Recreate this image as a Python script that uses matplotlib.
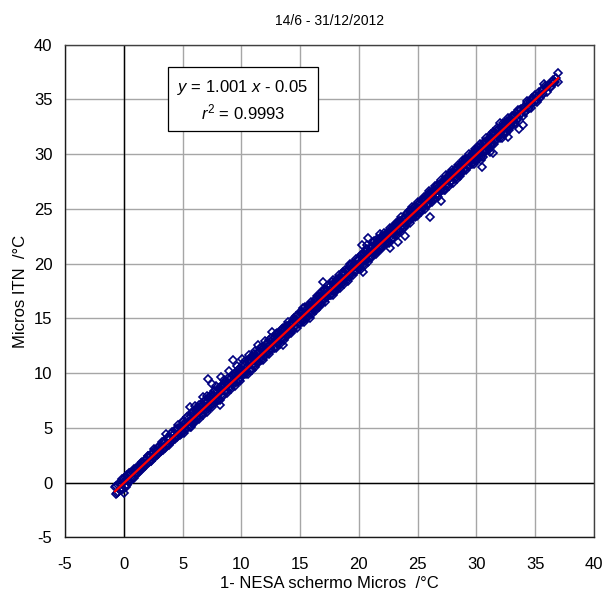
import matplotlib
matplotlib.use("Agg")
import matplotlib.pyplot as plt
import numpy as np

plt.rcParams["font.family"] = ["Liberation Sans", "DejaVu Sans"]
plt.rcParams["axes.unicode_minus"] = False
plt.rcParams["mathtext.fontset"] = "custom"
plt.rcParams["mathtext.rm"] = "Liberation Sans"
plt.rcParams["mathtext.it"] = "Liberation Sans:italic"

# Paired hourly readings (°C): NESA sensor in the Micros screen vs Micros ITN
x_nesa = [
    # around 0 °C
    -0.75, -0.70, -0.64, -0.58, -0.52, -0.46, -0.40, -0.33, -0.25, -0.18,
    -0.11, -0.05, 0.01, 0.06, 0.12, 0.18, 0.24, 0.30, 0.36, 0.42,
    0.48, 0.55, 0.62, 0.70, 0.78, 0.86, 0.94,
    # 1 .. 5 °C
    1.02, 1.10, 1.19, 1.27, 1.36, 1.44, 1.53, 1.61, 1.70, 1.78,
    1.87, 1.95, 2.04, 2.12, 2.21, 2.29, 2.38, 2.46, 2.55, 2.63,
    2.72, 2.80, 2.89, 2.97, 3.06, 3.14, 3.23, 3.31, 3.40, 3.48,
    3.57, 3.65, 3.74, 3.82, 3.91, 3.99, 4.08, 4.16, 4.25, 4.33,
    4.42, 4.50, 4.59, 4.67, 4.76, 4.84, 4.93,
    # 5 .. 12.5 °C
    5.01, 5.08, 5.16, 5.23, 5.31, 5.38, 5.46, 5.53, 5.61, 5.68,
    5.76, 5.83, 5.91, 5.98, 6.06, 6.13, 6.21, 6.28, 6.36, 6.43,
    6.51, 6.58, 6.66, 6.73, 6.81, 6.88, 6.96, 7.03, 7.11, 7.18,
    7.26, 7.33, 7.41, 7.48, 7.56, 7.63, 7.71, 7.78, 7.86, 7.93,
    8.01, 8.08, 8.16, 8.23, 8.31, 8.38, 8.46, 8.53, 8.61, 8.68,
    8.76, 8.83, 8.91, 8.98, 9.06, 9.13, 9.21, 9.28, 9.36, 9.43,
    9.51, 9.58, 9.66, 9.73, 9.81, 9.88, 9.96, 10.03, 10.11, 10.18,
    10.26, 10.33, 10.41, 10.48, 10.56, 10.63, 10.71, 10.78, 10.86, 10.93,
    11.01, 11.08, 11.16, 11.23, 11.31, 11.38, 11.46, 11.53, 11.61, 11.68,
    11.76, 11.83, 11.91, 11.98, 12.06, 12.13, 12.21, 12.28, 12.36, 12.43,
    # 12.5 .. 20 °C
    12.51, 12.59, 12.67, 12.75, 12.83, 12.91, 12.99, 13.07, 13.15, 13.23,
    13.31, 13.39, 13.47, 13.55, 13.63, 13.71, 13.79, 13.87, 13.95, 14.03,
    14.11, 14.19, 14.27, 14.35, 14.43, 14.51, 14.59, 14.67, 14.75, 14.83,
    14.91, 14.99, 15.07, 15.15, 15.23, 15.31, 15.39, 15.47, 15.55, 15.63,
    15.71, 15.79, 15.87, 15.95, 16.03, 16.11, 16.19, 16.27, 16.35, 16.43,
    16.51, 16.59, 16.67, 16.75, 16.83, 16.91, 16.99, 17.07, 17.15, 17.23,
    17.31, 17.39, 17.47, 17.55, 17.63, 17.71, 17.79, 17.87, 17.95, 18.03,
    18.11, 18.19, 18.27, 18.35, 18.43, 18.51, 18.59, 18.67, 18.75, 18.83,
    18.91, 18.99, 19.07, 19.15, 19.23, 19.31, 19.39, 19.47, 19.55, 19.63,
    19.71, 19.79, 19.87, 19.95,
    # 20 .. 28 °C
    20.03, 20.10, 20.17, 20.24, 20.31, 20.38, 20.45, 20.52, 20.59, 20.66,
    20.73, 20.80, 20.87, 20.94, 21.01, 21.08, 21.15, 21.22, 21.29, 21.36,
    21.43, 21.50, 21.57, 21.64, 21.71, 21.78, 21.85, 21.92, 21.99, 22.06,
    22.13, 22.20, 22.27, 22.34, 22.41, 22.48, 22.55, 22.62, 22.69, 22.76,
    22.83, 22.90, 22.97, 23.04, 23.11, 23.18, 23.25, 23.32, 23.39, 23.46,
    23.53, 23.60, 23.67, 23.74, 23.81, 23.88, 23.95, 24.02, 24.09, 24.16,
    24.23, 24.30, 24.37, 24.44, 24.51, 24.58, 24.65, 24.72, 24.79, 24.86,
    24.93, 25.00, 25.07, 25.14, 25.21, 25.28, 25.35, 25.42, 25.49, 25.56,
    25.63, 25.70, 25.77, 25.84, 25.91, 25.98, 26.05, 26.12, 26.19, 26.26,
    26.33, 26.40, 26.47, 26.54, 26.61, 26.68, 26.75, 26.82, 26.89, 26.96,
    27.03, 27.10, 27.17, 27.24, 27.31, 27.38, 27.45, 27.52, 27.59, 27.66,
    27.73, 27.80, 27.87, 27.94,
    # 28 .. 33.5 °C
    28.01, 28.08, 28.15, 28.22, 28.29, 28.36, 28.43, 28.50, 28.57, 28.64,
    28.71, 28.78, 28.85, 28.92, 28.99, 29.06, 29.13, 29.20, 29.27, 29.34,
    29.41, 29.48, 29.55, 29.62, 29.69, 29.76, 29.83, 29.90, 29.97, 30.04,
    30.11, 30.18, 30.25, 30.32, 30.39, 30.46, 30.53, 30.60, 30.67, 30.74,
    30.81, 30.88, 30.95, 31.02, 31.09, 31.16, 31.23, 31.30, 31.37, 31.44,
    31.51, 31.58, 31.65, 31.72, 31.79, 31.86, 31.93, 32.00, 32.07, 32.14,
    32.21, 32.28, 32.35, 32.42, 32.49, 32.56, 32.63, 32.70, 32.77, 32.84,
    32.91, 32.98, 33.05, 33.12, 33.19, 33.26, 33.33, 33.40,
    # above 33.5 °C
    33.50, 33.62, 33.71, 33.83, 33.95, 34.04, 34.16, 34.27, 34.39, 34.50,
    34.62, 34.74, 34.85, 34.98, 35.10, 35.21, 35.35, 35.48, 35.62, 35.76,
    35.90, 36.05, 36.22, 36.40, 36.58, 36.78, 36.91, 36.95,
    # second pass of readings, 0 .. 36.7 °C
    0.05, 0.15, 0.25, 0.35, 0.45, 0.55, 0.65, 0.75, 0.85, 0.95,
    1.05, 1.15, 1.25, 1.35, 1.45, 1.55, 1.65, 1.75, 1.85, 1.95,
    2.05, 2.15, 2.25, 2.35, 2.45, 2.55, 2.65, 2.75, 2.85, 2.95,
    3.05, 3.15, 3.25, 3.35, 3.45, 3.55, 3.65, 3.75, 3.85, 3.95,
    4.05, 4.15, 4.25, 4.35, 4.45, 4.55, 4.65, 4.75, 4.85, 4.95,
    5.04, 5.12, 5.20, 5.28, 5.36, 5.44, 5.52, 5.60, 5.68, 5.76,
    5.84, 5.92, 6.00, 6.08, 6.16, 6.24, 6.32, 6.40, 6.48, 6.56,
    6.64, 6.72, 6.80, 6.88, 6.96, 7.04, 7.12, 7.20, 7.28, 7.36,
    7.44, 7.52, 7.60, 7.68, 7.76, 7.84, 7.92, 8.00, 8.08, 8.16,
    8.24, 8.32, 8.40, 8.48, 8.56, 8.64, 8.72, 8.80, 8.88, 8.96,
    9.04, 9.12, 9.20, 9.28, 9.36, 9.44, 9.52, 9.60, 9.68, 9.76,
    9.84, 9.92, 10.00, 10.08, 10.16, 10.24, 10.32, 10.40, 10.48, 10.56,
    10.64, 10.72, 10.80, 10.88, 10.96, 11.04, 11.12, 11.20, 11.28, 11.36,
    11.44, 11.52, 11.60, 11.68, 11.76, 11.84, 11.92, 12.00, 12.08, 12.16,
    12.24, 12.32, 12.40, 12.48, 12.56, 12.64, 12.72, 12.80, 12.88, 12.96,
    13.04, 13.12, 13.20, 13.28, 13.36, 13.44, 13.52, 13.60, 13.68, 13.76,
    13.84, 13.92, 14.00, 14.08, 14.16, 14.24, 14.32, 14.40, 14.48, 14.56,
    14.64, 14.72, 14.80, 14.88, 14.96, 15.04, 15.12, 15.20, 15.28, 15.36,
    15.44, 15.52, 15.60, 15.68, 15.76, 15.84, 15.92, 16.00, 16.08, 16.16,
    16.24, 16.32, 16.40, 16.48, 16.56, 16.64, 16.72, 16.80, 16.88, 16.96,
    17.04, 17.12, 17.20, 17.28, 17.36, 17.44, 17.52, 17.60, 17.68, 17.76,
    17.84, 17.92, 18.00, 18.08, 18.16, 18.24, 18.32, 18.40, 18.48, 18.56,
    18.64, 18.72, 18.80, 18.88, 18.96, 19.04, 19.12, 19.20, 19.28, 19.36,
    19.44, 19.52, 19.60, 19.68, 19.76, 19.84, 19.92, 20.00, 20.08, 20.16,
    20.24, 20.32, 20.40, 20.48, 20.56, 20.64, 20.72, 20.80, 20.88, 20.96,
    21.04, 21.12, 21.20, 21.28, 21.36, 21.44, 21.52, 21.60, 21.68, 21.76,
    21.84, 21.92, 22.00, 22.08, 22.16, 22.24, 22.32, 22.40, 22.48, 22.56,
    22.64, 22.72, 22.80, 22.88, 22.96, 23.04, 23.12, 23.20, 23.28, 23.36,
    23.44, 23.52, 23.60, 23.68, 23.76, 23.84, 23.92, 24.00, 24.08, 24.16,
    24.24, 24.32, 24.40, 24.48, 24.56, 24.64, 24.72, 24.80, 24.88, 24.96,
    25.04, 25.12, 25.20, 25.28, 25.36, 25.44, 25.52, 25.60, 25.68, 25.76,
    25.84, 25.92, 26.00, 26.08, 26.16, 26.24, 26.32, 26.40, 26.48, 26.56,
    26.64, 26.72, 26.80, 26.88, 26.96, 27.04, 27.12, 27.20, 27.28, 27.36,
    27.44, 27.52, 27.60, 27.68, 27.76, 27.84, 27.92, 28.00, 28.08, 28.16,
    28.24, 28.32, 28.40, 28.48, 28.56, 28.64, 28.72, 28.80, 28.88, 28.96,
    29.04, 29.12, 29.20, 29.28, 29.36, 29.44, 29.52, 29.60, 29.68, 29.76,
    29.84, 29.92, 30.00, 30.08, 30.16, 30.24, 30.32, 30.40, 30.48, 30.56,
    30.64, 30.72, 30.80, 30.88, 30.96, 31.04, 31.12, 31.20, 31.28, 31.36,
    31.44, 31.52, 31.60, 31.68, 31.76, 31.84, 31.92, 32.00, 32.08, 32.16,
    32.24, 32.32, 32.40, 32.48, 32.56, 32.64, 32.72, 32.80, 32.88, 32.96,
    33.08, 33.20, 33.32, 33.44, 33.56, 33.68, 33.80, 33.92, 34.04, 34.16,
    34.28, 34.40, 34.52, 34.64, 34.76, 34.88, 35.00, 35.14, 35.28, 35.42,
    35.56, 35.70, 35.85, 36.00, 36.15, 36.32, 36.50, 36.68,
]

y_itn = [
    # around 0 °C
    -0.45, -1.00, -0.30, -0.92, -0.18, -0.85, -0.05, -0.70, -0.15, -0.55,
    0.30, -0.62, 0.05, -0.95, 0.55, -0.40, 0.70, -0.20, 0.15, 0.82,
    0.10, 0.90, 0.25, 0.45, 0.95, 0.40, 0.80,
    # 1 .. 5 °C
    1.22, 0.85, 1.24, 0.97, 1.64, 1.32, 1.88, 1.39, 1.80, 1.48,
    2.12, 1.77, 2.44, 1.84, 2.29, 1.94, 2.68, 2.36, 3.10, 2.38,
    2.87, 2.48, 3.24, 2.82, 3.11, 2.84, 3.68, 3.11, 3.65, 3.13,
    4.42, 3.55, 4.04, 3.44, 4.01, 3.74, 4.58, 3.86, 4.45, 4.18,
    4.82, 4.15, 5.29, 4.47, 5.06, 4.44, 5.08,
    # 5 .. 12.5 °C
    4.71, 5.53, 5.06, 5.48, 4.86, 5.98, 5.51, 5.18, 6.91, 5.53,
    6.06, 5.43, 6.41, 5.78, 6.96, 5.68, 6.36, 6.68, 6.06, 7.13,
    6.41, 6.93, 6.24, 7.83, 7.01, 6.58, 7.51, 6.88, 7.91, 9.43,
    6.91, 7.78, 7.46, 8.98, 7.16, 7.93, 8.36, 7.58, 8.86, 7.48,
    8.26, 8.63, 7.06, 8.33, 9.66, 8.08, 8.86, 9.38, 8.41, 9.03,
    8.36, 9.53, 9.01, 10.18, 8.81, 9.58, 9.26, 11.18, 9.01, 10.03,
    9.66, 9.28, 10.61, 10.03, 9.36, 10.43, 10.06, 11.28, 9.91, 10.58,
    9.91, 11.08, 10.46, 10.23, 11.06, 11.68, 10.31, 11.03, 11.51, 10.78,
    11.36, 10.68, 12.01, 11.33, 11.01, 11.88, 12.61, 11.33, 11.91, 11.23,
    12.36, 11.88, 11.56, 12.93, 12.31, 11.93, 12.66, 11.88, 13.06, 12.53,
    # 12.5 .. 20 °C
    12.21, 13.79, 12.87, 12.30, 13.18, 12.81, 13.54, 12.72, 13.30, 13.63,
    13.06, 13.44, 14.07, 12.55, 13.23, 14.01, 13.64, 14.32, 14.05, 13.68,
    14.36, 13.99, 14.67, 13.90, 14.48, 14.86, 14.29, 14.82, 14.70, 15.33,
    14.56, 15.19, 14.97, 15.60, 15.93, 14.91, 15.49, 15.22, 15.90, 15.58,
    16.11, 15.49, 15.07, 16.10, 15.58, 16.41, 16.24, 16.07, 16.80, 16.08,
    16.71, 16.49, 17.22, 16.35, 17.13, 18.31, 16.74, 17.17, 17.60, 16.88,
    17.56, 17.24, 17.87, 17.10, 17.68, 18.31, 17.49, 18.07, 17.90, 18.38,
    17.71, 18.34, 18.72, 18.15, 18.73, 18.16, 18.64, 19.22, 18.50, 19.03,
    18.81, 19.39, 18.62, 19.40, 19.93, 19.01, 19.49, 19.32, 20.00, 19.23,
    20.01, 19.74, 20.37, 19.70,
    # 20 .. 28 °C
    20.33, 19.75, 20.77, 21.69, 20.21, 19.28, 20.85, 20.27, 20.74, 21.71,
    20.33, 22.30, 21.07, 20.64, 21.56, 21.03, 21.50, 20.77, 22.09, 21.46,
    21.18, 21.95, 22.22, 21.24, 21.86, 22.68, 21.65, 22.22, 21.54, 22.56,
    22.18, 21.85, 22.67, 22.24, 22.66, 22.03, 22.90, 21.42, 22.79, 22.51,
    23.28, 22.85, 23.17, 22.64, 23.41, 22.98, 23.75, 22.02, 23.04, 23.61,
    23.93, 23.30, 23.72, 24.09, 23.36, 22.48, 24.20, 23.87, 24.54, 23.81,
    24.43, 24.25, 24.77, 24.04, 24.81, 24.38, 24.75, 25.17, 24.49, 25.11,
    24.48, 25.05, 25.42, 24.89, 25.36, 24.88, 25.80, 25.32, 25.79, 25.21,
    25.83, 25.65, 26.17, 25.54, 26.01, 26.43, 24.30, 25.72, 26.44, 26.11,
    26.68, 25.95, 26.52, 26.84, 26.36, 27.13, 26.40, 26.97, 26.84, 25.76,
    27.43, 26.80, 27.37, 26.79, 27.66, 27.28, 27.70, 27.17, 28.04, 27.71,
    27.48, 28.10, 27.47, 28.09,
    # 28 .. 33.5 °C
    28.36, 27.88, 28.20, 28.67, 27.89, 28.56, 28.33, 28.90, 28.22, 28.79,
    28.26, 29.08, 28.80, 29.32, 28.69, 29.16, 29.58, 29.00, 29.52, 28.94,
    29.76, 29.33, 29.60, 29.17, 30.09, 29.51, 30.03, 29.85, 30.42, 29.69,
    30.26, 29.78, 30.55, 30.22, 29.49, 28.81, 30.93, 29.75, 30.37, 30.99,
    30.36, 30.98, 31.40, 30.82, 31.39, 30.21, 30.88, 31.50, 30.07, 31.84,
    31.41, 31.88, 31.25, 31.77, 32.24, 31.61, 32.08, 32.85, 31.72, 32.44,
    32.16, 32.68, 32.05, 32.62, 32.04, 32.91, 32.48, 31.60, 33.02, 32.49,
    33.06, 32.73, 33.45, 33.02, 33.49, 32.86, 33.38, 33.75,
    # above 33.5 °C
    33.30, 32.32, 34.01, 33.73, 32.65, 34.29, 33.81, 34.82, 34.44, 34.20,
    34.97, 34.69, 35.05, 35.38, 34.85, 35.31, 35.65, 35.33, 35.87, 36.41,
    36.00, 36.35, 36.17, 36.60, 36.63, 36.93, 37.41, 36.55,
    # second pass of readings, 0 .. 36.7 °C
    0.35, -0.25, 0.35, 0.10, 0.85, 0.10, 0.85, 0.45, 1.20, 0.85,
    1.35, 0.80, 1.35, 1.15, 1.80, 1.25, 1.80, 1.40, 2.10, 1.80,
    2.40, 1.85, 2.40, 2.00, 2.70, 2.45, 3.00, 2.50, 2.90, 2.60,
    3.35, 2.85, 3.40, 2.95, 3.80, 3.40, 4.05, 3.45, 3.95, 3.60,
    4.45, 3.85, 4.45, 3.95, 4.90, 4.35, 5.00, 4.30, 5.00, 4.60,
    5.59, 4.52, 5.40, 4.93, 6.01, 5.29, 5.92, 5.10, 5.73, 5.11,
    6.46, 5.47, 6.30, 5.50, 6.64, 5.99, 6.92, 5.78, 6.60, 6.16,
    7.09, 6.17, 7.45, 6.68, 7.31, 6.44, 7.27, 6.75, 7.86, 7.06,
    7.99, 6.92, 7.80, 7.33, 8.41, 7.69, 8.32, 7.50, 8.13, 7.51,
    8.86, 7.87, 8.70, 7.90, 9.04, 8.39, 9.32, 8.18, 9.00, 8.56,
    9.49, 8.57, 9.85, 9.08, 9.71, 8.84, 9.67, 9.15, 10.26, 9.46,
    10.39, 9.32, 10.20, 9.73, 10.81, 10.09, 10.72, 9.90, 10.53, 9.91,
    11.26, 10.27, 11.10, 10.30, 11.44, 10.79, 11.72, 10.58, 11.40, 10.96,
    11.89, 10.97, 12.25, 11.48, 12.11, 11.24, 12.07, 11.55, 12.66, 11.86,
    12.79, 11.72, 12.60, 12.13, 13.21, 12.49, 13.12, 12.30, 12.93, 12.31,
    13.66, 12.67, 13.50, 12.70, 13.84, 13.19, 14.12, 12.98, 13.80, 13.36,
    14.29, 13.37, 14.65, 13.88, 14.51, 13.64, 14.47, 13.95, 15.06, 14.26,
    15.19, 14.12, 15.00, 14.53, 15.61, 14.89, 15.52, 14.70, 15.33, 14.71,
    16.06, 15.07, 15.90, 15.10, 16.24, 15.59, 16.52, 15.38, 16.20, 15.76,
    16.69, 15.77, 17.05, 16.28, 16.91, 16.04, 16.87, 16.35, 17.46, 16.66,
    17.59, 16.52, 17.40, 16.93, 18.01, 17.29, 17.92, 17.10, 17.73, 17.11,
    18.46, 17.47, 18.30, 17.50, 18.64, 17.99, 18.92, 17.78, 18.60, 18.16,
    19.09, 18.17, 19.45, 18.68, 19.31, 18.44, 19.27, 18.75, 19.86, 19.06,
    19.99, 18.92, 19.80, 19.33, 20.41, 19.69, 20.32, 19.50, 20.13, 19.51,
    20.86, 19.87, 20.70, 19.90, 21.04, 20.39, 21.32, 20.18, 21.00, 20.56,
    21.49, 20.57, 21.85, 21.08, 21.71, 20.84, 21.67, 21.15, 22.26, 21.46,
    22.39, 21.32, 22.20, 21.73, 22.81, 22.09, 22.72, 21.90, 22.53, 21.91,
    23.26, 22.27, 23.10, 22.30, 23.44, 22.79, 23.72, 22.58, 23.40, 22.96,
    23.89, 22.97, 24.25, 23.48, 24.11, 23.24, 24.07, 23.55, 24.66, 23.86,
    24.79, 23.72, 24.60, 24.13, 25.21, 24.49, 25.12, 24.30, 24.93, 24.31,
    25.66, 24.67, 25.50, 24.70, 25.84, 25.19, 26.12, 24.98, 25.80, 25.36,
    26.29, 25.37, 26.65, 25.88, 26.51, 25.64, 26.47, 25.95, 27.06, 26.26,
    27.19, 26.12, 27.00, 26.53, 27.61, 26.89, 27.52, 26.70, 27.33, 26.71,
    28.06, 27.07, 27.90, 27.10, 28.24, 27.59, 28.52, 27.38, 28.20, 27.76,
    28.69, 27.77, 29.05, 28.28, 28.91, 28.04, 28.87, 28.35, 29.46, 28.66,
    29.59, 28.52, 29.40, 28.93, 30.01, 29.29, 29.92, 29.10, 29.73, 29.11,
    30.46, 29.47, 30.30, 29.50, 30.64, 29.99, 30.92, 29.78, 30.60, 30.16,
    31.09, 30.17, 31.45, 30.68, 31.31, 30.44, 31.27, 30.75, 31.86, 31.06,
    31.99, 30.92, 31.80, 31.33, 32.41, 31.69, 32.32, 31.50, 32.13, 31.51,
    32.86, 31.87, 32.70, 31.90, 33.04, 32.39, 33.32, 32.18, 33.00, 32.56,
    33.48, 32.75, 33.47, 33.14, 34.01, 33.58, 34.10, 33.52, 34.09, 33.81,
    34.63, 34.10, 34.72, 34.24, 35.16, 34.73, 35.30, 34.79, 35.38, 35.17,
    35.86, 35.50, 36.20, 35.70, 36.35, 36.17, 36.75, 36.58,
]

# Linear regression reported on the chart
fit_slope = 1.001
fit_intercept = -0.05
fit_r2 = 0.9993

title = "14/6 - 31/12/2012"
x_label = "1- NESA schermo Micros  /°C"
y_label = "Micros ITN  /°C"
axis_ticks = [-5, 0, 5, 10, 15, 20, 25, 30, 35, 40]

x = np.asarray(x_nesa)
y = np.asarray(y_itn)

fig = plt.figure(figsize=(6.06, 5.94), dpi=100)
ax = fig.add_axes([65 / 606, 1 - 537.3 / 594, (594 - 65) / 606, (537.3 - 44.7) / 594])

ax.set_xlim(axis_ticks[0], axis_ticks[-1])
ax.set_ylim(axis_ticks[0], axis_ticks[-1])
ax.set_xticks(axis_ticks)
ax.set_yticks(axis_ticks)
ax.grid(True, color="#a6a6a6", linewidth=1.0, zorder=0)
ax.set_axisbelow(True)
ax.axhline(0, color="black", linewidth=1.0, zorder=1)
ax.axvline(0, color="black", linewidth=1.0, zorder=1)

ax.plot(x, y, linestyle="none", marker="D", markersize=4.3,
        markerfacecolor="none", markeredgecolor="#000080",
        markeredgewidth=1.2, zorder=3)

xf = np.array([x.min(), x.max()])
ax.plot(xf, fit_slope * xf + fit_intercept, color="#ff0000",
        linewidth=1.6, zorder=4)

for side in ("left", "bottom"):
    ax.spines[side].set_color("#1a1a1a")
for side in ("top", "right"):
    ax.spines[side].set_color("#404040")
for s in ax.spines.values():
    s.set_linewidth(1.0)

ax.tick_params(length=0, labelsize=12, colors="black")
ax.tick_params(axis="x", pad=14)
ax.tick_params(axis="y", pad=9)
ax.set_xlabel(x_label, fontsize=12, labelpad=3)
ax.set_ylabel(y_label, fontsize=12, labelpad=4)
fig.text(0.5 * (65 + 594) / 606, 1 - 21 / 594, title,
         ha="center", va="center", fontsize=10)

eq_text = (f"$\\it{{y}}$ = {fit_slope:.3f} $\\it{{x}}$ - {abs(fit_intercept):.2f}\n"
           f"$\\it{{r}}^2$ = {fit_r2:.4f}")
fig.text(243 / 606, 1 - 100 / 594, eq_text, ha="center", va="center",
         fontsize=12, linespacing=1.3,
         bbox=dict(boxstyle="square,pad=0.55", facecolor="white",
                   edgecolor="black", linewidth=0.9))

fig.savefig("out.png", dpi=100)
